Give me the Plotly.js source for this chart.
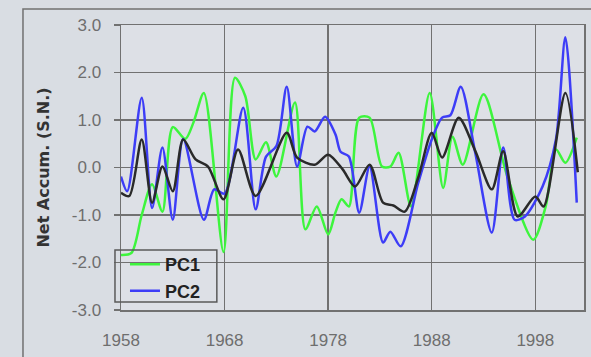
<!DOCTYPE html>
<html>
<head>
<meta charset="utf-8">
<script src="https://cdn.plot.ly/plotly-3.0.1.min.js"></script>
<style>html,body{margin:0;padding:0;background:#d9dde3;}#chart{width:591px;height:357px;}</style>
</head>
<body>
<div id="chart"></div>
<script>
// PC1 (green)
var pc1Years = [1958.0, 1959.0, 1960.0, 1961.0, 1962.0, 1963.0, 1964.2, 1965.0, 1966.0, 1967.9,
  1969.0, 1970.0, 1971.0, 1972.0, 1973.0, 1974.8, 1975.8, 1976.9, 1978.0, 1978.7, 1979.3, 1980.0,
  1981.0, 1982.0, 1983.2, 1984.0, 1984.8, 1986.0, 1987.8, 1989.1, 1990.0, 1991.0, 1993.0, 1995.3,
  1997.8, 1999.0, 2000.0, 2000.9, 2002.0];
var pc1Values = [-1.84, -1.80, -1.00, -0.35, -0.93, 0.85, 0.60, 0.95, 1.57, -1.78,
  1.89, 1.50, 0.17, 0.53, -0.19, 1.37, -1.30, -0.82, -1.41, -0.95, -0.67, -0.82,
  1.05, 1.05, 0.02, 0.02, 0.31, -0.82, 1.57, -0.43, 0.65, 0.06, 1.54, -0.19,
  -1.52, -0.82, 0.38, 0.10, 0.63];

// PC2 (blue)
var pc2Years = [1958.0, 1958.6, 1960.0, 1961.0, 1962.0, 1963.0, 1964.0, 1966.0, 1967.0, 1968.0,
  1969.8, 1971.0, 1972.0, 1973.0, 1974.0, 1975.0, 1976.0, 1976.7, 1977.7, 1978.7, 1979.2, 1980.0,
  1981.0, 1982.0, 1983.3, 1984.0, 1985.0, 1986.7, 1988.0, 1989.0, 1989.8, 1990.8, 1992.2, 1993.8,
  1994.9, 1996.0, 1997.0, 1998.7, 2000.0, 2000.9, 2002.0];
var pc2Values = [-0.19, -0.50, 1.47, -0.85, 0.42, -1.10, 0.60, -1.10, -0.46, -0.55,
  1.26, -0.88, 0.23, 0.45, 1.70, 0.02, 0.86, 0.76, 1.07, 0.70, 0.33, 0.23,
  -0.95, 0.02, -1.58, -1.35, -1.66, -0.32, 0.59, 1.05, 1.10, 1.70, 0.31, -1.37,
  0.42, -1.10, -1.03, -0.40, 0.60, 2.74, -0.74];

// Mean (black)
var meanYears = [1958.0, 1958.8, 1960.0, 1961.0, 1962.0, 1963.0, 1964.0, 1965.2, 1966.4, 1967.9,
  1969.3, 1971.0, 1974.0, 1975.0, 1976.7, 1978.0, 1979.4, 1980.6, 1982.0, 1983.3, 1984.3, 1985.4,
  1986.7, 1988.0, 1989.0, 1990.6, 1992.2, 1993.8, 1994.9, 1996.3, 1998.0, 1998.8, 2000.9, 2002.1];
var meanValues = [-0.53, -0.60, 0.59, -0.74, 0.02, -0.50, 0.59, 0.17, 0.02, -0.67,
  0.38, -0.60, 0.73, 0.21, 0.06, 0.27, -0.04, -0.40, 0.06, -0.74, -0.80, -0.93,
  -0.21, 0.73, 0.21, 1.05, 0.35, -0.46, 0.34, -1.03, -0.61, -0.82, 1.57, -0.10];

var xTickVals = [1958, 1968, 1978, 1988, 1998];
var xTickText = ['1958', '1968', '1978', '1988', '1998'];
var yTickVals = [-3, -2, -1, 0, 1, 2, 3];
var yTickText = ['-3.0', '-2.0', '-1.0', '0.0', '1.0', '2.0', '3.0'];

var gridCol = '#717171';
var bg = '#dde0e6';
var tickFont = {family: 'Liberation Sans, Arial, sans-serif', size: 17, color: '#6e6e6e'};

var traces = [
  {x: pc1Years, y: pc1Values, name: 'PC1', type: 'scatter', mode: 'lines',
   line: {color: '#3df53d', width: 2.5, shape: 'spline', smoothing: 0.8}},
  {x: pc2Years, y: pc2Values, name: 'PC2', type: 'scatter', mode: 'lines',
   line: {color: '#3d3df7', width: 2.5, shape: 'spline', smoothing: 0.8}},
  {x: meanYears, y: meanValues, name: 'Mean', type: 'scatter', mode: 'lines', showlegend: false,
   line: {color: '#2a2a2a', width: 2.5, shape: 'spline', smoothing: 0.8}}
];

var layout = {
  width: 591, height: 357,
  margin: {l: 121, r: 7, t: 25, b: 47},
  paper_bgcolor: '#d9dde3',
  plot_bgcolor: bg,
  showlegend: true,
  legend: {
    x: 0.0086, y: 0.224, xanchor: 'left', yanchor: 'top',
    bgcolor: 'rgba(0,0,0,0)', borderwidth: 0,
    font: {family: 'Liberation Sans, Arial, sans-serif', size: 18, color: '#222', weight: 'bold'},
    tracegroupgap: 0
  },
  xaxis: {
    range: [1958, 2002.7], tickvals: xTickVals, ticktext: xTickText,
    showgrid: true, gridcolor: gridCol, gridwidth: 1.5, zeroline: false,
    showline: true, mirror: true, linecolor: gridCol, linewidth: 1.5,
    ticks: '', tickfont: tickFont, ticklabelstandoff: 14, fixedrange: true
  },
  yaxis: {
    range: [-3, 3], tickvals: yTickVals, ticktext: yTickText,
    showgrid: true, gridcolor: gridCol, gridwidth: 1.5, zeroline: false,
    showline: true, mirror: true, linecolor: gridCol, linewidth: 1.5,
    ticks: 'outside', ticklen: 6, tickwidth: 1.5, tickcolor: gridCol,
    tickfont: tickFont, ticklabelstandoff: 9, automargin: false, fixedrange: true,
    title: {text: 'Net Accum. (S.N.)', standoff: 18,
      font: {family: 'DejaVu Sans, sans-serif', size: 16, color: '#333', weight: 'bold'}}
  },
  shapes: [
    {type: 'rect', xref: 'paper', yref: 'paper', x0: -0.2117, x1: 1.3, y0: -0.6, y1: 1.056,
     line: {color: gridCol, width: 1.5}, fillcolor: 'rgba(0,0,0,0)', layer: 'below'},
    {type: 'rect', xref: 'paper', yref: 'paper', x0: -0.013, x1: 0.207, y0: 0.028, y1: 0.2105,
     line: {color: '#5a5a5a', width: 1.5}, fillcolor: 'rgba(0,0,0,0)', layer: 'above'}
  ]
};

Plotly.newPlot('chart', traces, layout, {displayModeBar: false, staticPlot: true});
</script>
</body>
</html>
